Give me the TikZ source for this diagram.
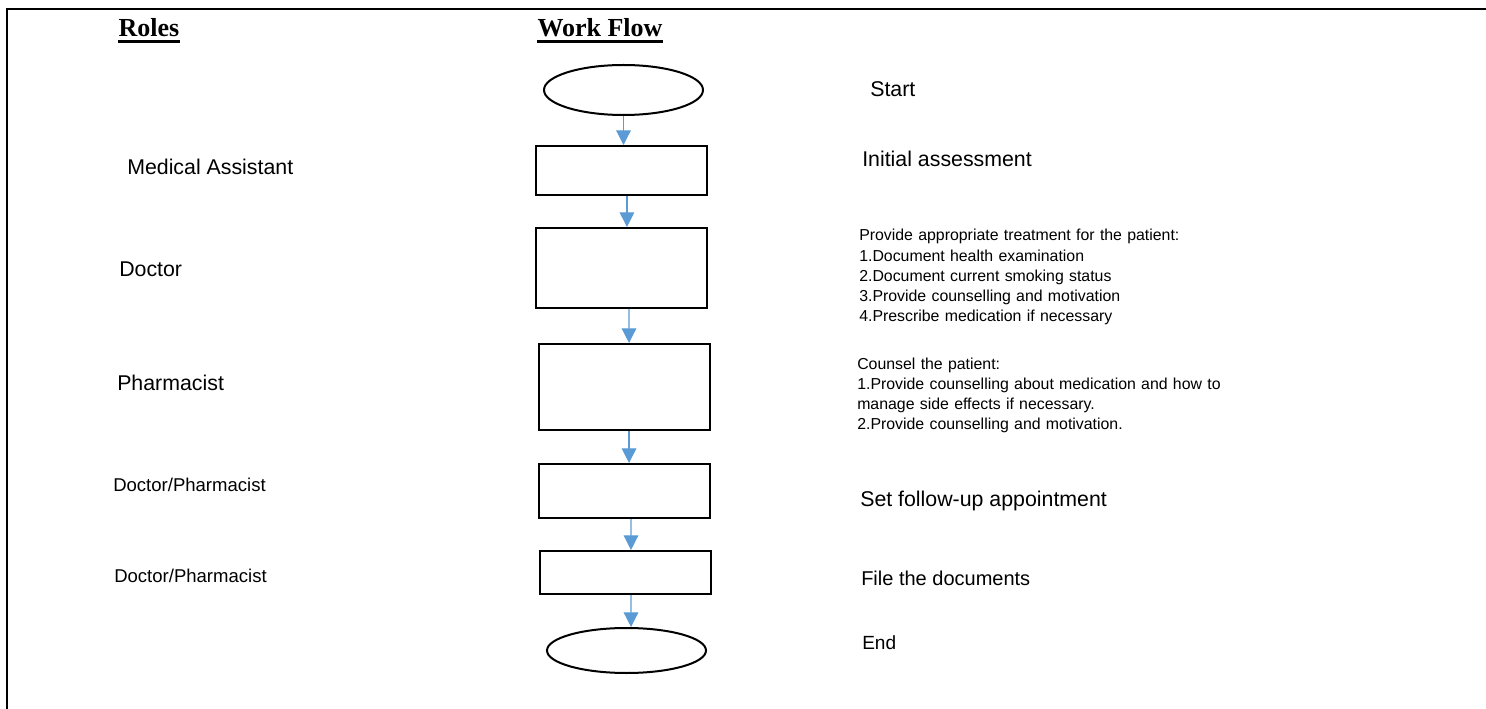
\documentclass[tikz,border=0pt]{standalone}
\usepackage{fontspec}
\setmainfont{Liberation Serif}
\newfontfamily\arial{Liberation Sans}
\usetikzlibrary{shapes.geometric,arrows.meta}
\definecolor{flowblue}{HTML}{5B9BD5}
\tikzset{
  frameline/.style={line width=1.5pt},
  coltitle/.style={anchor=base, inner sep=0pt, font=\fontsize{19.5}{22}\selectfont\bfseries},
  ulline/.style={line width=1.9pt},
  rolebig/.style={anchor=base west, inner sep=0pt, font=\arial\fontsize{16}{19}\selectfont},
  rolesmall/.style={anchor=base west, inner sep=0pt, font=\arial\fontsize{13.9}{17}\selectfont},
  descbig/.style={anchor=base west, inner sep=0pt, font=\arial\fontsize{16}{19}\selectfont},
  desclist/.style={anchor=base west, inner sep=0pt, text width=300pt, align=left,
                   font=\arial\fontsize{11.9}{15.1}\selectfont},
  terminal/.style={ellipse, draw, line width=1.5pt, inner sep=0pt, minimum width=119.25pt},
  process/.style={rectangle, draw, line width=1.5pt, inner sep=0pt, minimum width=128.25pt},
  flow/.style={draw=flowblue, line width=0.9pt, -{Triangle[length=11pt,width=11pt,fill=flowblue]}}
}
\begin{document}
\begin{tikzpicture}[x=0.75pt, y=-0.75pt]
\useasboundingbox (0,0) rectangle (1486,709);
% frame
\draw[frameline] (1486,9.5) -- (7,9.5) -- (7,709);

% column titles
\node[coltitle] (roles) at (149,36.5) {Roles};
\node[coltitle] (wflow) at (600,36.5) {Work Flow};
\draw[ulline] ([yshift=-3.9pt]roles.base west) -- ([yshift=-3.9pt]roles.base east);
\draw[ulline] ([yshift=-3.9pt]wflow.base west) -- ([yshift=-3.9pt]wflow.base east);

% flow shapes
\node[terminal, minimum height=37.5pt] (start) at (623.5,90) {};
\node[process, minimum height=36.75pt] (b1) at (621.5,170.5) {};
\node[process, minimum height=60pt] (b2) at (621.5,268) {};
\node[process, minimum height=64.5pt] (b3) at (624.5,387) {};
\node[process, minimum height=40.5pt] (b4) at (624.5,491) {};
\node[process, minimum height=32.25pt] (b5) at (625.5,572.5) {};
\node[terminal, minimum height=33.75pt] (end) at (626.5,650.5) {};

% connectors
\draw[flow] (start.south) -- (b1.north -| start.south);
\draw[flow] ([xshift=4.1pt]b1.south) -- ([xshift=4.1pt]b2.north);
\draw[flow] ([xshift=5.6pt]b2.south) -- ([xshift=3.4pt]b3.north);
\draw[flow] ([xshift=3.4pt]b3.south) -- ([xshift=3.4pt]b4.north);
\draw[flow] ([xshift=4.9pt]b4.south) -- ([xshift=4.1pt]b5.north);
\draw[flow] ([xshift=4.1pt]b5.south) -- ([xshift=3.4pt]end.north);

% roles
\node[rolebig] (r1) at (127,175) {Medical Assistant};
\node[rolebig] (r2) at (119,277) {Doctor};
\node[rolebig] (r3) at (117,391) {Pharmacist};
\node[rolesmall] (r4) at (113,491) {Doctor/Pharmacist};
\node[rolesmall] (r5) at (114,582) {Doctor/Pharmacist};

% descriptions
\node[descbig] (d0) at (870,97) {Start};
\node[descbig] (d1) at (862,167) {Initial assessment};
\node[desclist] (d2) at (859,241) {Provide appropriate treatment for the patient:\\
1.Document health examination\\
2.Document current smoking status\\
3.Provide counselling and motivation\\
4.Prescribe medication if necessary};
\node[desclist] (d3) at (857,369) {Counsel the patient:\\
1.Provide counselling about medication and how to\\
manage side effects if necessary.\\
2.Provide counselling and motivation.};
\node[descbig] (d4) at (860,506) {Set follow-up appointment};
\node[descbig, font=\arial\fontsize{15}{18}\selectfont] (d5) at (861,585) {File the documents};
\node[descbig, font=\arial\fontsize{14.3}{17}\selectfont] (d6) at (862,649) {End};
\end{tikzpicture}
\end{document}
